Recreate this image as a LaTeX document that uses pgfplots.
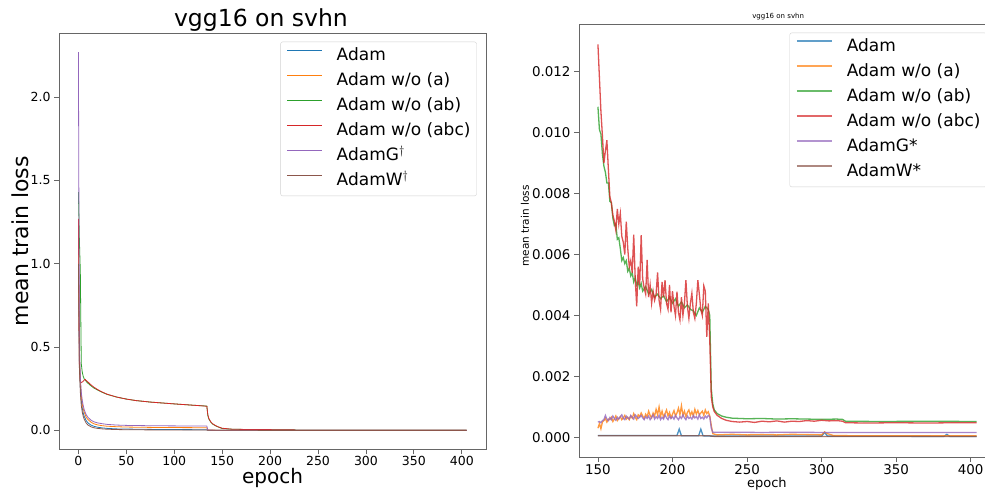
\documentclass[border=0pt]{standalone}
\usepackage{fontspec}
\setmainfont{DejaVu Sans}
\usepackage{pgfplots}
\pgfplotsset{compat=1.18}
\definecolor{c0}{HTML}{1F77B4}
\definecolor{c1}{HTML}{FF7F0E}
\definecolor{c2}{HTML}{2CA02C}
\definecolor{c3}{HTML}{D62728}
\definecolor{c4}{HTML}{9467BD}
\definecolor{c5}{HTML}{8C564B}
\pgfplotsset{
  mpl/.style={
    scale only axis,
    axis line style={gray!80!black, line width=0.8pt},
    tick align=outside, tick pos=left,
    major tick length=5pt,
    tick style={gray!80!black, line width=0.8pt},
    /pgf/number format/assume math mode=true,
    scaled ticks=false,
    xticklabel style={inner sep=2pt},
    legend cell align=left,
    legend style={draw=black!18, rounded corners=2pt, inner sep=6pt,
      font=\fontsize{17}{17}\selectfont, row sep=8pt,
      nodes={inner sep=0pt, text height=13pt, text depth=4pt},
      /tikz/every odd column/.append style={column sep=14pt}},
  }
}
\begin{document}
\begin{tikzpicture}
\path[use as bounding box] (0pt,0pt) rectangle (985pt,490pt);
% ---------------- left axis ----------------
\begin{axis}[mpl,
  at={(59pt,40.7pt)}, anchor=south west,
  width=427pt, height=416pt,
  xmin=-20.25, xmax=425.25, ymin=-0.1135, ymax=2.3835,
  xtick={0,50,...,400}, ytick={0,0.5,1,1.5,2},
  yticklabel style={/pgf/number format/.cd, fixed, fixed zerofill, precision=1},
  ticklabel style={font=\fontsize{12.5}{12.5}\selectfont},
  title={vgg16 on svhn},
  title style={font=\fontsize{23.5}{23.5}\selectfont, at={(axis description cs:0.473,1)}, anchor=south, inner sep=0pt, yshift=-4pt},
  xlabel={epoch},
  xlabel style={font=\fontsize{20}{20}\selectfont, at={(axis description cs:0.5,-0.069)}, anchor=center},
  ylabel={mean train loss},
  ylabel style={font=\fontsize{22}{22}\selectfont, at={(axis description cs:-0.0913,0.5)}, anchor=center, rotate=0},
  legend style={at={(1,1)}, anchor=north east, xshift=-9.3pt, yshift=-8.4pt},
  legend image code/.code={\draw[#1, line width=1.1pt, opacity=1] (0pt,6pt) -- (35pt,6pt);},
  every axis plot/.append style={line width=0.8pt},
]
\addplot[c0] coordinates {(0,1.05)(1,0.42)(2,0.26)(3,0.18)(4,0.135)(5,0.105)(6,0.085)(8,0.06)(10,0.045)(13,0.032)(16,0.025)(20,0.019)(25,0.015)(30,0.012)(40,0.009)(50,0.008)(75,0.006)(100,0.005)(134,0.004)(135,0.001)(150,0.0005)(405,0.0001)};
\addlegendentry{Adam}
\addplot[c1] coordinates {(0,1.1)(1,0.45)(2,0.29)(3,0.21)(4,0.16)(5,0.13)(6,0.11)(8,0.08)(10,0.065)(13,0.05)(16,0.04)(20,0.033)(25,0.028)(30,0.025)(40,0.022)(50,0.02)(75,0.018)(100,0.017)(134,0.016)(135,0.002)(150,0.0009)(225,0.0007)(226,0.0001)(405,0.00005)};
\addlegendentry{Adam w/o (a)}
\addplot[c2] coordinates {(0,1.43)(1,1.15)(2,0.95)(3,0.40)(4,0.35)(5,0.325)(6,0.31)(8,0.295)(10,0.283)(13,0.268)(16,0.255)(20,0.242)(25,0.228)(30,0.216)(40,0.2)(50,0.188)(60,0.179)(75,0.17)(100,0.159)(120,0.151)(134,0.146)(135,0.09)(136,0.07)(138,0.05)(140,0.038)(143,0.028)(146,0.02)(150,0.011)(160,0.0072)(175,0.0053)(200,0.0044)(225,0.004)(226,0.0016)(230,0.0008)(260,0.0006)(315,0.0006)(405,0.00053)};
\addlegendentry{Adam w/o (ab)}
\addplot[c3] coordinates {(0,1.27)(1,0.40)(2,0.29)(3,0.288)(4,0.29)(5,0.295)(6,0.302)(7,0.306)(8,0.3)(10,0.29)(13,0.274)(16,0.26)(20,0.245)(25,0.23)(30,0.217)(40,0.2)(50,0.188)(60,0.179)(75,0.17)(100,0.159)(120,0.151)(134,0.145)(135,0.095)(136,0.072)(138,0.052)(140,0.04)(143,0.029)(146,0.021)(150,0.0129)(160,0.0073)(175,0.0055)(200,0.0045)(225,0.0035)(226,0.0013)(230,0.00075)(260,0.00053)(315,0.00052)(405,0.00048)};
\addlegendentry{Adam w/o (abc)}
\addplot[c4] coordinates {(0,2.27)(1,0.5)(2,0.32)(3,0.23)(4,0.18)(5,0.15)(6,0.125)(8,0.095)(10,0.078)(13,0.062)(16,0.052)(20,0.045)(25,0.04)(30,0.036)(40,0.032)(50,0.03)(75,0.028)(100,0.027)(134,0.026)(135,0.002)(150,0.0005)(225,0.0007)(226,0.00016)(405,0.00016)};
\addlegendentry{AdamG$^\dagger$}
\addplot[c5] coordinates {(0,1.0)(1,0.38)(2,0.23)(3,0.15)(4,0.11)(5,0.085)(6,0.068)(8,0.045)(10,0.032)(13,0.022)(16,0.016)(20,0.012)(25,0.009)(30,0.007)(40,0.005)(50,0.004)(75,0.003)(100,0.0025)(134,0.002)(135,0.0003)(405,0.00003)};
\addlegendentry{AdamW$^\dagger$}
\end{axis}
% ---------------- right axis ----------------
\begin{axis}[mpl,
  at={(579pt,33pt)}, anchor=south west,
  width=416.6pt, height=432.5pt,
  xmin=137.3, xmax=416.7, ymin=-0.000645, ymax=0.01355,
  xtick={150,200,...,400}, ytick={0,0.002,...,0.0121},
  yticklabel style={/pgf/number format/.cd, fixed, fixed zerofill, precision=3},
  ticklabel style={font=\fontsize{13.4}{13.4}\selectfont},
  title={vgg16 on svhn},
  title style={font=\fontsize{7}{7}\selectfont, at={(axis description cs:0.478,1)}, anchor=south, inner sep=0pt, yshift=-2pt},
  xlabel={epoch},
  xlabel style={font=\fontsize{13}{13}\selectfont, at={(axis description cs:0.451,-0.0624)}, anchor=center},
  ylabel={mean train loss},
  ylabel style={font=\fontsize{10.5}{10.5}\selectfont, at={(axis description cs:-0.1296,0.534)}, anchor=center, rotate=0},
  legend style={at={(1,1)}, anchor=north east, xshift=-8.9pt, yshift=-8.2pt},
  legend image code/.code={\draw[#1, line width=2pt, opacity=0.7] (0pt,6pt) -- (35pt,6pt);},
  every axis plot/.append style={line width=1.3pt, opacity=0.8},
]
\addplot[c0] coordinates {(150,0.00006)(203,0.00006)(204.5,0.00027)(206,0.00005)(217.5,0.00005)(219,0.00027)(220.5,0.00005)(226,0.00004)(300,0.00004)(302,0.00016)(304,0.00004)(382,0.00003)(384,0.00010)(386,0.00003)(404,0.00003)};
\addlegendentry{Adam}
\addplot[c1] coordinates {(150,0.00030)(151,0.00045)(152,0.00028)(153,0.00050)(154,0.00055)(155,0.00062)(156,0.00050)(157,0.00060)(158,0.00058)(159,0.00066)(160,0.00052)(161,0.00060)(162,0.00070)(163,0.00055)(164,0.00062)(165,0.00068)(166,0.00058)(167,0.00064)(168,0.00072)(169,0.00060)(170,0.00066)(171,0.00058)(172,0.00070)(173,0.00063)(174,0.00078)(175,0.00066)(176,0.00058)(177,0.00074)(178,0.00068)(179,0.00080)(180,0.00070)(181,0.00062)(182,0.00076)(183,0.00068)(184,0.00086)(185,0.00072)(186,0.00064)(187,0.00080)(188,0.00070)(189,0.00092)(190,0.00074)(191,0.00100)(192,0.00070)(193,0.00086)(194,0.00066)(195,0.00078)(196,0.00090)(197,0.00070)(198,0.00082)(199,0.00064)(200,0.00076)(201,0.00088)(202,0.00070)(203,0.00080)(204,0.00096)(205,0.00074)(206,0.00104)(207,0.00072)(208,0.00086)(209,0.00068)(210,0.00082)(211,0.00090)(212,0.00072)(213,0.00084)(214,0.00070)(215,0.00092)(216,0.00076)(217,0.00088)(218,0.00074)(219,0.00080)(220,0.00086)(221,0.00072)(222,0.00090)(223,0.00078)(224,0.00084)(225,0.00070)(226,0.00040)(227,0.00012)(230,0.00008)(240,0.00010)(250,0.00008)(260,0.00009)(270,0.00008)(280,0.00010)(290,0.00009)(300,0.00008)(302,0.00018)(304,0.00012)(308,0.00006)(330,0.00005)(404,0.00005)};
\addlegendentry{Adam w/o (a)}
\addplot[c2] coordinates {(150,0.01085)(151,0.01010)(152,0.00995)(153,0.00930)(154,0.00890)(155,0.00870)(156,0.00835)(157,0.00835)(158,0.00775)(159,0.00770)(160,0.00720)(161,0.00695)(162,0.00700)(163,0.00650)(164,0.00655)(165,0.00620)(166,0.00580)(167,0.00590)(168,0.00570)(169,0.00580)(170,0.00545)(171,0.00555)(172,0.00530)(173,0.00540)(174,0.00510)(175,0.00525)(176,0.00500)(177,0.00510)(178,0.00490)(179,0.00505)(180,0.00480)(182,0.00495)(184,0.00470)(186,0.00485)(188,0.00460)(190,0.00470)(192,0.00455)(194,0.00465)(196,0.00445)(198,0.00460)(200,0.00440)(202,0.00455)(204,0.00430)(206,0.00445)(208,0.00425)(210,0.00435)(212,0.00420)(214,0.00415)(216,0.00400)(218,0.00425)(220,0.00410)(222,0.00430)(224,0.00420)(225,0.00400)(226,0.00160)(227,0.00110)(228,0.00090)(230,0.00078)(233,0.00070)(236,0.00066)(240,0.00063)(250,0.00061)(260,0.00062)(270,0.00060)(280,0.00061)(290,0.00060)(300,0.00059)(310,0.00060)(314,0.00059)(316,0.00053)(340,0.00052)(370,0.00053)(404,0.00052)};
\addlegendentry{Adam w/o (ab)}
\addplot[c3] coordinates {(150,0.01290)(151,0.01180)(152,0.01070)(153,0.00990)(154,0.00900)(155,0.00940)(156,0.00975)(157,0.00880)(158,0.00790)(159,0.00770)(160,0.00730)(161,0.00710)(162,0.00680)(163,0.00750)(164,0.00700)(165,0.00735)(166,0.00660)(167,0.00640)(168,0.00600)(169,0.00708)(170,0.00620)(171,0.00560)(172,0.00580)(173,0.00540)(174,0.00665)(175,0.00520)(176,0.00430)(177,0.00560)(178,0.00500)(179,0.00664)(180,0.00520)(181,0.00490)(182,0.00470)(183,0.00582)(184,0.00460)(185,0.00500)(186,0.00440)(187,0.00480)(188,0.00450)(189,0.00470)(190,0.00541)(191,0.00450)(192,0.00420)(193,0.00510)(194,0.00460)(195,0.00516)(196,0.00440)(197,0.00420)(198,0.00500)(199,0.00410)(200,0.00480)(201,0.00430)(202,0.00400)(203,0.00478)(204,0.00410)(205,0.00385)(206,0.00460)(207,0.00400)(208,0.00440)(209,0.00516)(210,0.00430)(211,0.00390)(212,0.00440)(213,0.00473)(214,0.00410)(215,0.00390)(216,0.00440)(217,0.00516)(218,0.00470)(219,0.00420)(220,0.00400)(221,0.00497)(222,0.00480)(223,0.00330)(224,0.00440)(225,0.00320)(226,0.00133)(227,0.00100)(228,0.00085)(230,0.00072)(233,0.00062)(236,0.00056)(240,0.00052)(245,0.00050)(250,0.00052)(255,0.00049)(260,0.00053)(265,0.00051)(270,0.00054)(275,0.00050)(280,0.00053)(285,0.00052)(290,0.00055)(295,0.00053)(300,0.00056)(305,0.00054)(310,0.00055)(314,0.00053)(316,0.00048)(330,0.00047)(350,0.00048)(370,0.00047)(390,0.00048)(404,0.00048)};
\addlegendentry{Adam w/o (abc)}
\addplot[c4] coordinates {(150,0.00050)(151,0.00052)(152,0.00048)(153,0.00055)(154,0.00058)(155,0.00072)(156,0.00060)(157,0.00055)(158,0.00065)(159,0.00058)(160,0.00070)(161,0.00062)(162,0.00056)(163,0.00066)(164,0.00060)(165,0.00068)(166,0.00074)(167,0.00062)(168,0.00058)(169,0.00070)(170,0.00064)(171,0.00060)(172,0.00072)(173,0.00066)(174,0.00060)(175,0.00074)(176,0.00068)(177,0.00062)(178,0.00066)(179,0.00072)(180,0.00064)(181,0.00058)(182,0.00068)(183,0.00062)(184,0.00070)(185,0.00058)(186,0.00066)(187,0.00074)(188,0.00060)(189,0.00068)(190,0.00062)(191,0.00072)(192,0.00058)(193,0.00066)(194,0.00060)(195,0.00074)(196,0.00064)(197,0.00058)(198,0.00070)(199,0.00062)(200,0.00068)(201,0.00060)(202,0.00072)(203,0.00064)(204,0.00058)(205,0.00068)(206,0.00062)(207,0.00074)(208,0.00064)(209,0.00058)(210,0.00070)(211,0.00062)(212,0.00066)(213,0.00060)(214,0.00072)(215,0.00064)(216,0.00068)(217,0.00060)(218,0.00074)(219,0.00062)(220,0.00066)(221,0.00060)(222,0.00070)(223,0.00064)(224,0.00072)(225,0.00068)(226,0.00030)(227,0.00017)(240,0.00017)(260,0.00016)(280,0.00017)(300,0.00016)(320,0.00016)(350,0.00016)(380,0.00016)(404,0.00016)};
\addlegendentry{AdamG*}
\addplot[c5] coordinates {(150,0.00005)(225,0.00005)(228,0.00003)(404,0.00003)};
\addlegendentry{AdamW*}
\end{axis}
\end{tikzpicture}
\end{document}
